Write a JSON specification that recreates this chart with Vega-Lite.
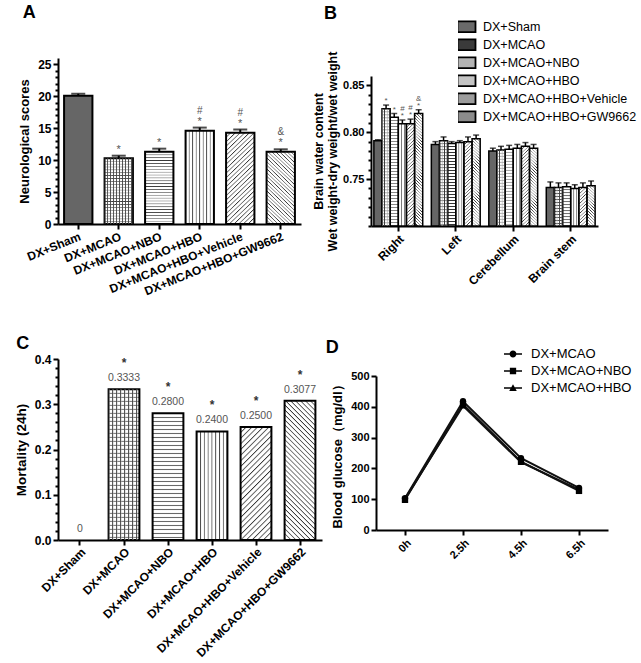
{
"$schema": "https://vega.github.io/schema/vega-lite/v6.json",
"padding": {"left": 14, "top": 4, "right": 5, "bottom": 2},
"config": {
 "font": "Liberation Sans",
 "view": {"stroke": null},
 "axis": {"domainColor": "#000", "domainWidth": 2, "tickColor": "#000", "tickWidth": 2, "tickSize": 5, "labelColor": "#000", "labelFontWeight": "bold", "labelFontSize": 12, "labelPadding": 2, "titleColor": "#000", "titleFontWeight": "bold", "titleFontSize": 13, "grid": false},
 "legend": {"labelFontSize": 13, "labelColor": "#000", "labelFont": "Liberation Sans"},
 "title": {"fontSize": 18, "fontWeight": "bold", "color": "#000", "anchor": "start", "font": "Liberation Sans"}
},
"params": [{"name": "ts", "value": [
{"offset":0,"color":"#333"},{"offset":0.009,"color":"rgba(255,255,255,0)"},{"offset":0.019,"color":"rgba(255,255,255,0)"},
{"offset":0.025,"color":"#333"},{"offset":0.034,"color":"rgba(255,255,255,0)"},{"offset":0.044,"color":"rgba(255,255,255,0)"},
{"offset":0.05,"color":"#333"},{"offset":0.059,"color":"rgba(255,255,255,0)"},{"offset":0.069,"color":"rgba(255,255,255,0)"},
{"offset":0.075,"color":"#333"},{"offset":0.084,"color":"rgba(255,255,255,0)"},{"offset":0.094,"color":"rgba(255,255,255,0)"},
{"offset":0.1,"color":"#333"},{"offset":0.109,"color":"rgba(255,255,255,0)"},{"offset":0.119,"color":"rgba(255,255,255,0)"},
{"offset":0.125,"color":"#333"},{"offset":0.134,"color":"rgba(255,255,255,0)"},{"offset":0.144,"color":"rgba(255,255,255,0)"},
{"offset":0.15,"color":"#333"},{"offset":0.159,"color":"rgba(255,255,255,0)"},{"offset":0.169,"color":"rgba(255,255,255,0)"},
{"offset":0.175,"color":"#333"},{"offset":0.184,"color":"rgba(255,255,255,0)"},{"offset":0.194,"color":"rgba(255,255,255,0)"},
{"offset":0.2,"color":"#333"},{"offset":0.209,"color":"rgba(255,255,255,0)"},{"offset":0.219,"color":"rgba(255,255,255,0)"},
{"offset":0.225,"color":"#333"},{"offset":0.234,"color":"rgba(255,255,255,0)"},{"offset":0.244,"color":"rgba(255,255,255,0)"},
{"offset":0.25,"color":"#333"},{"offset":0.259,"color":"rgba(255,255,255,0)"},{"offset":0.269,"color":"rgba(255,255,255,0)"},
{"offset":0.275,"color":"#333"},{"offset":0.284,"color":"rgba(255,255,255,0)"},{"offset":0.294,"color":"rgba(255,255,255,0)"},
{"offset":0.3,"color":"#333"},{"offset":0.309,"color":"rgba(255,255,255,0)"},{"offset":0.319,"color":"rgba(255,255,255,0)"},
{"offset":0.325,"color":"#333"},{"offset":0.334,"color":"rgba(255,255,255,0)"},{"offset":0.344,"color":"rgba(255,255,255,0)"},
{"offset":0.35,"color":"#333"},{"offset":0.359,"color":"rgba(255,255,255,0)"},{"offset":0.369,"color":"rgba(255,255,255,0)"},
{"offset":0.375,"color":"#333"},{"offset":0.384,"color":"rgba(255,255,255,0)"},{"offset":0.394,"color":"rgba(255,255,255,0)"},
{"offset":0.4,"color":"#333"},{"offset":0.409,"color":"rgba(255,255,255,0)"},{"offset":0.419,"color":"rgba(255,255,255,0)"},
{"offset":0.425,"color":"#333"},{"offset":0.434,"color":"rgba(255,255,255,0)"},{"offset":0.444,"color":"rgba(255,255,255,0)"},
{"offset":0.45,"color":"#333"},{"offset":0.459,"color":"rgba(255,255,255,0)"},{"offset":0.469,"color":"rgba(255,255,255,0)"},
{"offset":0.475,"color":"#333"},{"offset":0.484,"color":"rgba(255,255,255,0)"},{"offset":0.494,"color":"rgba(255,255,255,0)"},
{"offset":0.5,"color":"#333"},{"offset":0.509,"color":"rgba(255,255,255,0)"},{"offset":0.519,"color":"rgba(255,255,255,0)"},
{"offset":0.525,"color":"#333"},{"offset":0.534,"color":"rgba(255,255,255,0)"},{"offset":0.544,"color":"rgba(255,255,255,0)"},
{"offset":0.55,"color":"#333"},{"offset":0.559,"color":"rgba(255,255,255,0)"},{"offset":0.569,"color":"rgba(255,255,255,0)"},
{"offset":0.575,"color":"#333"},{"offset":0.584,"color":"rgba(255,255,255,0)"},{"offset":0.594,"color":"rgba(255,255,255,0)"},
{"offset":0.6,"color":"#333"},{"offset":0.609,"color":"rgba(255,255,255,0)"},{"offset":0.619,"color":"rgba(255,255,255,0)"},
{"offset":0.625,"color":"#333"},{"offset":0.634,"color":"rgba(255,255,255,0)"},{"offset":0.644,"color":"rgba(255,255,255,0)"},
{"offset":0.65,"color":"#333"},{"offset":0.659,"color":"rgba(255,255,255,0)"},{"offset":0.669,"color":"rgba(255,255,255,0)"},
{"offset":0.675,"color":"#333"},{"offset":0.684,"color":"rgba(255,255,255,0)"},{"offset":0.694,"color":"rgba(255,255,255,0)"},
{"offset":0.7,"color":"#333"},{"offset":0.709,"color":"rgba(255,255,255,0)"},{"offset":0.719,"color":"rgba(255,255,255,0)"},
{"offset":0.725,"color":"#333"},{"offset":0.734,"color":"rgba(255,255,255,0)"},{"offset":0.744,"color":"rgba(255,255,255,0)"},
{"offset":0.75,"color":"#333"},{"offset":0.759,"color":"rgba(255,255,255,0)"},{"offset":0.769,"color":"rgba(255,255,255,0)"},
{"offset":0.775,"color":"#333"},{"offset":0.784,"color":"rgba(255,255,255,0)"},{"offset":0.794,"color":"rgba(255,255,255,0)"},
{"offset":0.8,"color":"#333"},{"offset":0.809,"color":"rgba(255,255,255,0)"},{"offset":0.819,"color":"rgba(255,255,255,0)"},
{"offset":0.825,"color":"#333"},{"offset":0.834,"color":"rgba(255,255,255,0)"},{"offset":0.844,"color":"rgba(255,255,255,0)"},
{"offset":0.85,"color":"#333"},{"offset":0.859,"color":"rgba(255,255,255,0)"},{"offset":0.869,"color":"rgba(255,255,255,0)"},
{"offset":0.875,"color":"#333"},{"offset":0.884,"color":"rgba(255,255,255,0)"},{"offset":0.894,"color":"rgba(255,255,255,0)"},
{"offset":0.9,"color":"#333"},{"offset":0.909,"color":"rgba(255,255,255,0)"},{"offset":0.919,"color":"rgba(255,255,255,0)"},
{"offset":0.925,"color":"#333"},{"offset":0.934,"color":"rgba(255,255,255,0)"},{"offset":0.944,"color":"rgba(255,255,255,0)"},
{"offset":0.95,"color":"#333"},{"offset":0.959,"color":"rgba(255,255,255,0)"},{"offset":0.969,"color":"rgba(255,255,255,0)"},
{"offset":0.975,"color":"#333"},{"offset":0.984,"color":"rgba(255,255,255,0)"},{"offset":0.994,"color":"rgba(255,255,255,0)"},
{"offset":1,"color":"#333"}
]}],
"spacing": 38,
"resolve": {"scale": {"fill": "independent", "shape": "independent"}, "legend": {"fill": "independent", "shape": "independent"}},
"vconcat": [
 {"hconcat": [
  {
   "width": 243, "height": 166,
   "title": {"text": "A", "frame": "bounds", "offset": 36, "dx": 4},
   "data": {"values": [
    {"group": "DX+Sham", "score": 20.1, "hi": 20.4, "s1": "", "s2": ""},
    {"group": "DX+MCAO", "score": 10.3, "hi": 10.7, "s1": "*", "s2": ""},
    {"group": "DX+MCAO+NBO", "score": 11.3, "hi": 11.8, "s1": "*", "s2": ""},
    {"group": "DX+MCAO+HBO", "score": 14.6, "hi": 15.1, "s1": "*", "s2": "#"},
    {"group": "DX+MCAO+HBO+Vehicle", "score": 14.3, "hi": 14.8, "s1": "*", "s2": "#"},
    {"group": "DX+MCAO+HBO+GW9662", "score": 11.3, "hi": 11.7, "s1": "*", "s2": "&"}
   ]},
   "encoding": {"x": {"field": "group", "type": "nominal", "sort": null,
     "scale": {"domain": ["DX+Sham","DX+MCAO","DX+MCAO+NBO","DX+MCAO+HBO","DX+MCAO+HBO+Vehicle","DX+MCAO+HBO+GW9662"], "paddingInner": 0.3, "paddingOuter": 0.15},
     "axis": {"title": null, "labelAngle": -22, "labelAlign": "right", "labelBaseline": "top"}}},
   "resolve": {"axis": {"y": "independent"}},
   "layer": [
    {"mark": {"type": "rule", "color": "#000", "strokeWidth": 2},
     "encoding": {"y": {"field": "hi", "type": "quantitative", "scale": {"domain": [0, 25]},
       "axis": {"title": "Neurological scores", "titlePadding": 6, "orient": "left", "values": [0, 5, 10, 15, 20, 25]}},
      "y2": {"field": "score"}}},
    {"mark": {"type": "tick", "color": "#000", "thickness": 2, "size": 14},
     "encoding": {"y": {"field": "hi", "type": "quantitative",
       "axis": {"orient": "left", "title": null, "labels": false, "domain": false, "tickSize": 3, "values": [1,2,3,4,6,7,8,9,11,12,13,14,16,17,18,19,21,22,23,24]}}}},
    {"mark": {"type": "bar", "fill": {"expr": "datum.group==='DX+Sham'?'#666':'#fff'"}}, "encoding": {"y": {"field": "score", "type": "quantitative", "axis": null}}},
    {"mark": {"type": "bar", "stroke": "#000", "strokeWidth": 2, "fill": {"expr": "datum.group==='DX+MCAO'||datum.group==='DX+MCAO+NBO'?{gradient:'linear',x1:0,y1:0,x2:0,y2:120/(datum.score*6.64),stops:ts}:datum.group==='DX+MCAO+HBO'?{gradient:'linear',x1:0,y1:0,x2:4.94,y2:0,stops:ts}:datum.group==='DX+MCAO+HBO+Vehicle'?{gradient:'linear',x1:0,y1:0,x2:5293/(803.7+pow(datum.score*6.64,2)),y2:1240*datum.score/(803.7+pow(datum.score*6.64,2)),stops:ts}:datum.group==='DX+MCAO+HBO+GW9662'?{gradient:'linear',x1:1,y1:0,x2:1-4329/(803.7+pow(datum.score*6.64,2)),y2:1014*datum.score/(803.7+pow(datum.score*6.64,2)),stops:ts}:'transparent'"}},
     "encoding": {"y": {"field": "score", "type": "quantitative", "axis": null}}},
    {"transform": [{"filter": "datum.group === 'DX+MCAO'"}],
     "mark": {"type": "bar", "strokeWidth": 0, "fill": {"expr": "{gradient:'linear',x1:0,y1:0,x2:4.23,y2:0,stops:ts}"}},
     "encoding": {"y": {"field": "score", "type": "quantitative", "axis": null}}},
    {"mark": {"type": "text", "fill": "#555", "fontSize": 11, "dy": -6, "baseline": "middle"}, "encoding": {"y": {"field": "hi", "type": "quantitative", "axis": null}, "text": {"field": "s1"}}},
    {"mark": {"type": "text", "fill": "#555", "fontSize": 10, "dy": -17, "baseline": "middle"}, "encoding": {"y": {"field": "hi", "type": "quantitative", "axis": null}, "text": {"field": "s2"}}}
   ]
  },
  {
   "width": 227, "height": 168,
   "title": {"text": "B", "frame": "bounds", "offset": -5, "dx": 12},
   "data": {"values": [
    {"region": "Right", "group": "DX+Sham", "value": 0.791, "hi": 0.792, "s1": "", "s2": ""},
    {"region": "Right", "group": "DX+MCAO", "value": 0.825, "hi": 0.829, "s1": "*", "s2": ""},
    {"region": "Right", "group": "DX+MCAO+NBO", "value": 0.816, "hi": 0.820, "s1": "*", "s2": ""},
    {"region": "Right", "group": "DX+MCAO+HBO", "value": 0.809, "hi": 0.813, "s1": "*", "s2": "#"},
    {"region": "Right", "group": "DX+MCAO+HBO+Vehicle", "value": 0.809, "hi": 0.814, "s1": "*", "s2": "#"},
    {"region": "Right", "group": "DX+MCAO+HBO+GW9662", "value": 0.820, "hi": 0.824, "s1": "*", "s2": "&"},
    {"region": "Left", "group": "DX+Sham", "value": 0.787, "hi": 0.790, "s1": "", "s2": ""},
    {"region": "Left", "group": "DX+MCAO", "value": 0.791, "hi": 0.795, "s1": "", "s2": ""},
    {"region": "Left", "group": "DX+MCAO+NBO", "value": 0.788, "hi": 0.790, "s1": "", "s2": ""},
    {"region": "Left", "group": "DX+MCAO+HBO", "value": 0.789, "hi": 0.791, "s1": "", "s2": ""},
    {"region": "Left", "group": "DX+MCAO+HBO+Vehicle", "value": 0.790, "hi": 0.795, "s1": "", "s2": ""},
    {"region": "Left", "group": "DX+MCAO+HBO+GW9662", "value": 0.793, "hi": 0.797, "s1": "", "s2": ""},
    {"region": "Cerebellum", "group": "DX+Sham", "value": 0.780, "hi": 0.783, "s1": "", "s2": ""},
    {"region": "Cerebellum", "group": "DX+MCAO", "value": 0.781, "hi": 0.785, "s1": "", "s2": ""},
    {"region": "Cerebellum", "group": "DX+MCAO+NBO", "value": 0.782, "hi": 0.786, "s1": "", "s2": ""},
    {"region": "Cerebellum", "group": "DX+MCAO+HBO", "value": 0.783, "hi": 0.787, "s1": "", "s2": ""},
    {"region": "Cerebellum", "group": "DX+MCAO+HBO+Vehicle", "value": 0.785, "hi": 0.789, "s1": "", "s2": ""},
    {"region": "Cerebellum", "group": "DX+MCAO+HBO+GW9662", "value": 0.783, "hi": 0.787, "s1": "", "s2": ""},
    {"region": "Brain stem", "group": "DX+Sham", "value": 0.741, "hi": 0.747, "s1": "", "s2": ""},
    {"region": "Brain stem", "group": "DX+MCAO", "value": 0.741, "hi": 0.746, "s1": "", "s2": ""},
    {"region": "Brain stem", "group": "DX+MCAO+NBO", "value": 0.742, "hi": 0.746, "s1": "", "s2": ""},
    {"region": "Brain stem", "group": "DX+MCAO+HBO", "value": 0.740, "hi": 0.744, "s1": "", "s2": ""},
    {"region": "Brain stem", "group": "DX+MCAO+HBO+Vehicle", "value": 0.741, "hi": 0.746, "s1": "", "s2": ""},
    {"region": "Brain stem", "group": "DX+MCAO+HBO+GW9662", "value": 0.743, "hi": 0.748, "s1": "", "s2": ""}
   ]},
   "encoding": {
    "x": {"field": "region", "type": "nominal", "sort": null, "scale": {"paddingInner": 0.15, "paddingOuter": 0.05},
      "axis": {"title": null, "labelAngle": -45, "labelAlign": "right", "labelBaseline": "top"}},
    "xOffset": {"field": "group", "type": "nominal", "sort": null, "scale": {"domain": ["DX+Sham","DX+MCAO","DX+MCAO+NBO","DX+MCAO+HBO","DX+MCAO+HBO+Vehicle","DX+MCAO+HBO+GW9662"], "paddingInner": 0, "paddingOuter": 0}}
   },
   "resolve": {"axis": {"y": "independent"}},
   "layer": [
    {"mark": {"type": "rule", "color": "#000", "strokeWidth": 1.5},
     "encoding": {"y": {"field": "hi", "type": "quantitative", "scale": {"domain": [0.70, 0.85], "range": [168, 18]},
       "axis": {"title": ["Brain water content", "Wet weight-dry weight/wet weight"], "titleFontSize": 12.5, "titlePadding": 3, "labelFontSize": 11, "orient": "left", "values": [0.75, 0.8, 0.85], "format": ".2f"}},
      "y2": {"field": "value"}}},
    {"mark": {"type": "tick", "color": "#000", "thickness": 1.5, "size": 6},
     "encoding": {"y": {"field": "hi", "type": "quantitative",
       "axis": {"orient": "left", "title": null, "labels": false, "domain": false, "tickSize": 3, "values": [0.7,0.71,0.72,0.73,0.74,0.76,0.77,0.78,0.79,0.81,0.82,0.83,0.84]}}}},
    {"transform": [{"filter": "false"}],
     "mark": {"type": "bar"}, "encoding": {"y": {"field": "value", "type": "quantitative", "axis": null}, "y2": {"datum": 0.7},
      "fill": {"field": "group", "type": "nominal", "sort": null,
       "scale": {"domain": ["DX+Sham","DX+MCAO","DX+MCAO+NBO","DX+MCAO+HBO","DX+MCAO+HBO+Vehicle","DX+MCAO+HBO+GW9662"], "range": ["#6a6a6a","#3a3a3a","#b4b4b4","#c4c4c4","#9c9c9c","#8c8c8c"]},
       "legend": {"title": null, "orient": "none", "legendX": 87, "legendY": -40, "symbolType": "M-1.2,-0.71H1.2V0.71H-1.2Z", "symbolSize": 225,
        "symbolStrokeColor": "#000", "symbolStrokeWidth": 1.8, "labelFontSize": 12.5, "labelOffset": 8, "rowPadding": 0, "clipHeight": 17.4, "padding": 0}}}},
    {"mark": {"type": "bar", "fill": {"expr": "datum.group==='DX+Sham'?'#666':'#fff'"}}, "encoding": {"y": {"field": "value", "type": "quantitative", "axis": null}, "y2": {"datum": 0.7}}},
    {"mark": {"type": "bar", "stroke": "#000", "strokeWidth": 1.5, "fill": {"expr": "datum.group==='DX+MCAO'||datum.group==='DX+MCAO+NBO'?{gradient:'linear',x1:0,y1:0,x2:0,y2:0.128/(datum.value-0.7),stops:ts}:datum.group==='DX+MCAO+HBO'?{gradient:'linear',x1:0,y1:0,x2:14.7,y2:0,stops:ts}:datum.group==='DX+MCAO+HBO+Vehicle'?{gradient:'linear',x1:0,y1:0,x2:1152/(66.4+pow((datum.value-0.7)*1000,2)),y2:141400*(datum.value-0.7)/(66.4+pow((datum.value-0.7)*1000,2)),stops:ts}:datum.group==='DX+MCAO+HBO+GW9662'?{gradient:'linear',x1:1,y1:0,x2:1-1014/(66.4+pow((datum.value-0.7)*1000,2)),y2:124400*(datum.value-0.7)/(66.4+pow((datum.value-0.7)*1000,2)),stops:ts}:'transparent'"}},
     "encoding": {"y": {"field": "value", "type": "quantitative", "axis": null}, "y2": {"datum": 0.7}}},
    {"transform": [{"filter": "datum.group === 'DX+MCAO'"}],
     "mark": {"type": "bar", "strokeWidth": 0, "fill": {"expr": "{gradient:'linear',x1:0,y1:0,x2:12.3,y2:0,stops:ts}"}},
     "encoding": {"y": {"field": "value", "type": "quantitative", "axis": null}, "y2": {"datum": 0.7}}},
    {"mark": {"type": "text", "fill": "#555", "fontSize": 8, "dy": -4, "baseline": "middle"}, "encoding": {"y": {"field": "hi", "type": "quantitative", "axis": null}, "text": {"field": "s1"}}},
    {"mark": {"type": "text", "fill": "#555", "fontSize": 8, "dy": -11, "baseline": "middle"}, "encoding": {"y": {"field": "hi", "type": "quantitative", "axis": null}, "text": {"field": "s2"}}}
   ]
  }
 ], "spacing": 70, "bounds": "flush",
 "resolve": {"scale": {"fill": "independent", "shape": "independent"}, "legend": {"fill": "independent", "shape": "independent"}}},
 {"hconcat": [
  {
   "width": 264, "height": 181,
   "title": {"text": "C", "frame": "bounds", "offset": 0, "dx": 2},
   "data": {"values": [
    {"group": "DX+Sham", "value": 0, "label": "0", "star": ""},
    {"group": "DX+MCAO", "value": 0.3333, "label": "0.3333", "star": "*"},
    {"group": "DX+MCAO+NBO", "value": 0.28, "label": "0.2800", "star": "*"},
    {"group": "DX+MCAO+HBO", "value": 0.24, "label": "0.2400", "star": "*"},
    {"group": "DX+MCAO+HBO+Vehicle", "value": 0.25, "label": "0.2500", "star": "*"},
    {"group": "DX+MCAO+HBO+GW9662", "value": 0.3077, "label": "0.3077", "star": "*"}
   ]},
   "encoding": {
    "x": {"field": "group", "type": "nominal", "sort": null,
      "scale": {"domain": ["DX+Sham","DX+MCAO","DX+MCAO+NBO","DX+MCAO+HBO","DX+MCAO+HBO+Vehicle","DX+MCAO+HBO+GW9662"], "paddingInner": 0.3, "paddingOuter": 0.15},
      "axis": {"title": null, "labelAngle": -45, "labelAlign": "right", "labelBaseline": "top", "labelPadding": 1, "labelFontSize": 12}},
    "y": {"field": "value", "type": "quantitative", "scale": {"domain": [0, 0.4]}, "axis": null}
   },
   "resolve": {"axis": {"y": "independent"}},
   "layer": [
    {"transform": [{"filter": "datum.value > 0"}], "mark": {"type": "bar", "fill": "#fff"},
     "encoding": {"y": {"field": "value", "type": "quantitative",
       "axis": {"title": "Mortality (24h)", "titleFontSize": 13.5, "titlePadding": 6, "orient": "left", "values": [0, 0.1, 0.2, 0.3, 0.4], "format": ".1f"}}}},
    {"transform": [{"filter": "datum.value > 0"}],
     "mark": {"type": "bar", "stroke": "#000", "strokeWidth": 2, "fill": {"expr": "datum.group==='DX+MCAO'||datum.group==='DX+MCAO+NBO'?{gradient:'linear',x1:0,y1:0,x2:0,y2:160/(datum.value*452.5),stops:ts}:datum.group==='DX+MCAO+HBO'?{gradient:'linear',x1:0,y1:0,x2:4.94,y2:0,stops:ts}:datum.group==='DX+MCAO+HBO+Vehicle'?{gradient:'linear',x1:0,y1:0,x2:6967/(948.6+pow(datum.value*452.5,2)),y2:102356*datum.value/(948.6+pow(datum.value*452.5,2)),stops:ts}:datum.group==='DX+MCAO+HBO+GW9662'?{gradient:'linear',x1:1,y1:0,x2:1-6098/(948.6+pow(datum.value*452.5,2)),y2:89595*datum.value/(948.6+pow(datum.value*452.5,2)),stops:ts}:'transparent'"}},
     "encoding": {"y": {"field": "value", "type": "quantitative",
       "axis": {"orient": "left", "title": null, "labels": false, "domain": false, "tickSize": 3, "values": [0.02,0.04,0.06,0.08,0.12,0.14,0.16,0.18,0.22,0.24,0.26,0.28,0.32,0.34,0.36,0.38]}}}},
    {"transform": [{"filter": "datum.group === 'DX+MCAO'"}],
     "mark": {"type": "bar", "strokeWidth": 0, "fill": {"expr": "{gradient:'linear',x1:0,y1:0,x2:5.19,y2:0,stops:ts}"}}},
    {"mark": {"type": "text", "fill": "#555", "fontSize": 10.5, "dy": -11, "baseline": "middle"}, "encoding": {"text": {"field": "label"}}},
    {"mark": {"type": "text", "fill": "#333", "fontSize": 12, "fontWeight": "bold", "dy": -26, "baseline": "middle"}, "encoding": {"text": {"field": "star"}}}
   ]
  },
  {
   "width": 232, "height": 171,
   "title": {"text": "D", "frame": "bounds", "offset": -13, "dx": -6},
   "data": {"values": [
    {"group": "DX+MCAO", "time": "0h", "glucose": 103},
    {"group": "DX+MCAO", "time": "2.5h", "glucose": 418},
    {"group": "DX+MCAO", "time": "4.5h", "glucose": 233},
    {"group": "DX+MCAO", "time": "6.5h", "glucose": 137},
    {"group": "DX+MCAO+NBO", "time": "0h", "glucose": 98},
    {"group": "DX+MCAO+NBO", "time": "2.5h", "glucose": 408},
    {"group": "DX+MCAO+NBO", "time": "4.5h", "glucose": 222},
    {"group": "DX+MCAO+NBO", "time": "6.5h", "glucose": 127},
    {"group": "DX+MCAO+HBO", "time": "0h", "glucose": 101},
    {"group": "DX+MCAO+HBO", "time": "2.5h", "glucose": 403},
    {"group": "DX+MCAO+HBO", "time": "4.5h", "glucose": 220},
    {"group": "DX+MCAO+HBO", "time": "6.5h", "glucose": 131}
   ]},
   "encoding": {
    "x": {"field": "time", "type": "ordinal", "sort": null, "scale": {"padding": 0.5},
      "axis": {"title": null, "labelAngle": -45, "labelAlign": "right", "labelBaseline": "top", "labelFontSize": 11}},
    "y": {"field": "glucose", "type": "quantitative", "scale": {"domain": [0, 500], "range": [171, 17]},
      "axis": {"title": "Blood glucose（mg/dl）", "titleFontSize": 13, "titlePadding": 6, "values": [0, 100, 200, 300, 400, 500], "labelFontSize": 11}}
   },
   "resolve": {"scale": {"shape": "independent"}, "legend": {"shape": "independent"}},
   "layer": [
    {"mark": {"type": "line", "color": "#111", "strokeWidth": 2}, "encoding": {"detail": {"field": "group"}}},
    {"mark": {"type": "point", "filled": true, "color": "#000", "size": 40, "opacity": 1},
     "encoding": {"shape": {"field": "group", "type": "nominal", "sort": null, "legend": null,
       "scale": {"domain": ["DX+MCAO", "DX+MCAO+NBO", "DX+MCAO+HBO"], "range": ["circle", "square", "triangle-up"]}}}},
    {"transform": [{"filter": "false"}],
     "mark": {"type": "point", "filled": true, "color": "#000", "opacity": 1},
     "encoding": {"shape": {"field": "group", "type": "nominal", "sort": null,
       "scale": {"domain": ["DX+MCAO", "DX+MCAO+NBO", "DX+MCAO+HBO"], "range": ["M-1,-0.09H1V0.09H-1Z M0.38,0A0.38,0.38 0 1,1 -0.38,0A0.38,0.38 0 1,1 0.38,0Z", "M-1,-0.09H1V0.09H-1Z M-0.35,-0.35H0.35V0.35H-0.35Z", "M-1,-0.09H1V0.09H-1Z M0,-0.42L0.42,0.32H-0.42Z"]},
       "legend": {"title": null, "orient": "none", "legendX": 127, "legendY": -15, "symbolSize": 324, "symbolFillColor": "#000", "labelFontSize": 13, "labelOffset": 8, "rowPadding": 0, "padding": 0}}}}
   ]
  }
 ], "spacing": 54, "bounds": "flush",
 "resolve": {"scale": {"fill": "independent", "shape": "independent"}, "legend": {"fill": "independent", "shape": "independent"}}}
]
}
